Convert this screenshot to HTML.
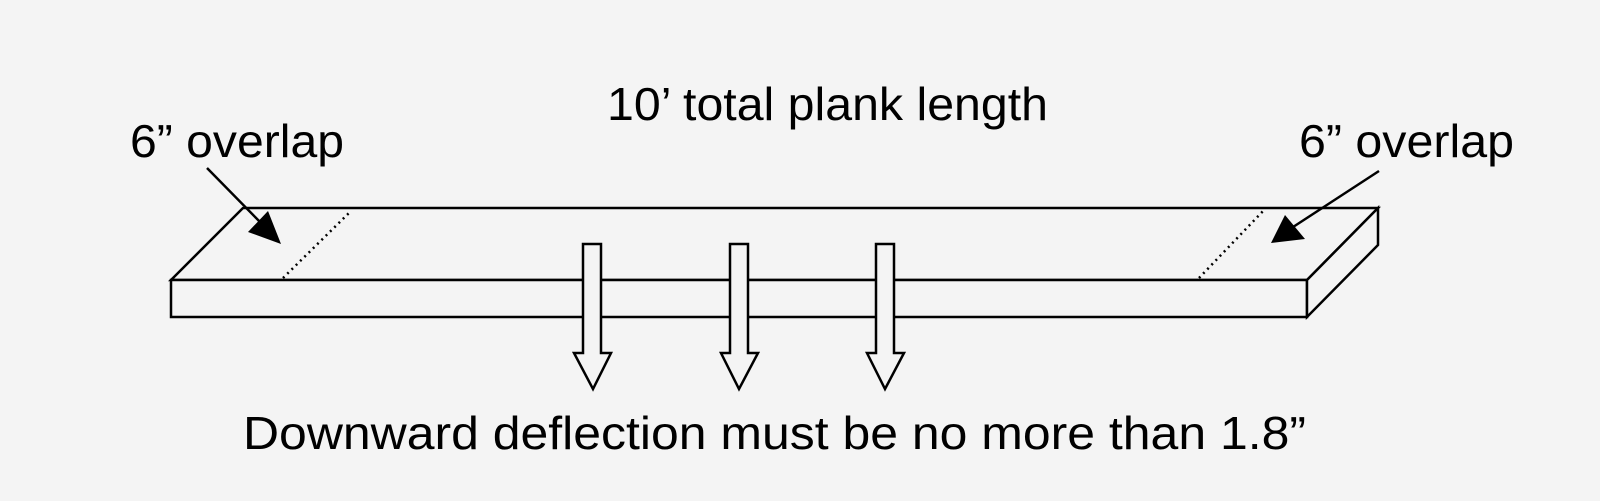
<!DOCTYPE html>
<html><head><style>
html,body{margin:0;padding:0;background:#f4f4f4;}
svg{display:block}
text{font-family:"Liberation Sans",Arial,sans-serif;fill:#000}
</style></head><body>
<svg width="1600" height="501" viewBox="0 0 1600 501" xmlns="http://www.w3.org/2000/svg">
<rect width="1600" height="501" fill="#f4f4f4"/>
<g stroke="#000" stroke-width="2.5" fill="#f4f4f4" stroke-linejoin="miter">
<polygon points="171,280 243,208 1378,208 1307,280"/>
<rect x="171" y="280" width="1136" height="37"/>
<polygon points="1307,280 1378,208 1378,245 1307,317"/>
</g>
<g stroke="#000" stroke-width="2.5" stroke-dasharray="2,4">
<line x1="283" y1="278" x2="351" y2="211"/>
<line x1="1199" y1="278" x2="1265" y2="209"/>
</g>
<g stroke="#000" stroke-width="2.5">
<line x1="207" y1="168" x2="262" y2="224"/>
<line x1="1379" y1="171" x2="1290" y2="229"/>
</g>
<polygon points="248,232 268,211 281,244" fill="#000"/>
<polygon points="1271,243 1285,215 1305,239" fill="#000"/>
<g stroke="#000" stroke-width="2.5" fill="#f4f4f4">
<polygon points="583,244 601,244 601,353 611,353 593,389 574,353 583,353"/>
<polygon points="730,244 748,244 748,353 758,353 739,389 721,353 730,353"/>
<polygon points="876,244 894,244 894,353 904,353 885,389 867,353 876,353"/>
</g>
<text x="607" y="120" font-size="46" textLength="441" lengthAdjust="spacingAndGlyphs">10’ total plank length</text>
<text x="130" y="157" font-size="46" textLength="214" lengthAdjust="spacingAndGlyphs">6” overlap</text>
<text x="1299" y="157" font-size="46" textLength="215" lengthAdjust="spacingAndGlyphs">6” overlap</text>
<text x="243" y="449" font-size="46" textLength="1063" lengthAdjust="spacingAndGlyphs">Downward deflection must be no more than 1.8”</text>
</svg>
</body></html>
